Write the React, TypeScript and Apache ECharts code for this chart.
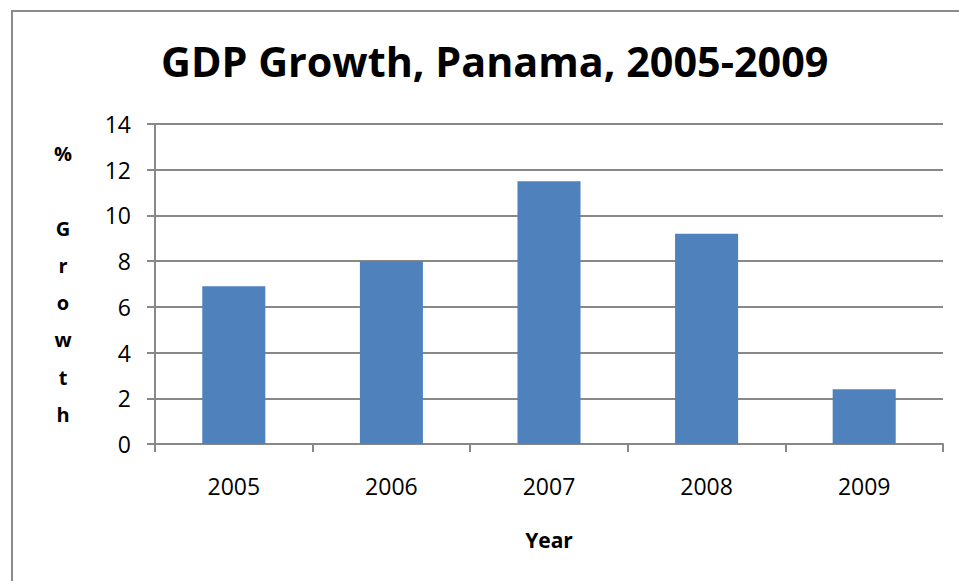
import React, { useEffect, useRef } from "react";
import * as echarts from "echarts";

const years = ["2005", "2006", "2007", "2008", "2009"];
const gdpGrowth = [6.9, 8.0, 11.5, 9.2, 2.4];
const yTicks = { min: 0, max: 14, interval: 2 };
const titleText = "GDP Growth, Panama, 2005-2009";
const xAxisTitle = "Year";
const yAxisTitle = "%\n\nG\nr\no\nw\nt\nh";

export default function App() {
  const ref = useRef<HTMLDivElement>(null);
  useEffect(() => {
    if (!ref.current) return;
    const chart = echarts.init(ref.current, null, { renderer: "svg" });
    const gray = "#888888";
    chart.setOption({
      animation: false,
      backgroundColor: "#ffffff",
      textStyle: { fontFamily: "Open Sans" },
      title: {
        text: titleText,
        left: 156,
        top: 35,
        textStyle: { fontFamily: "Open Sans", fontWeight: "bold", fontSize: 41.3, color: "#000" },
      },
      graphic: [
        {
          type: "rect",
          shape: { x: 12, y: 11, width: 1000, height: 1000 },
          style: { fill: "none", stroke: "#8c8c8c", lineWidth: 2 },
          silent: true,
        },
      ],
      grid: { left: 155, top: 124, right: 16, bottom: 137 },
      xAxis: {
        type: "category",
        data: years,
        name: xAxisTitle,
        nameLocation: "middle",
        nameGap: 85,
        nameTextStyle: { fontFamily: "Open Sans", fontWeight: "bold", fontSize: 21, color: "#000" },
        axisLine: { show: true, lineStyle: { color: gray, width: 2 } },
        axisTick: { show: true, length: 8, lineStyle: { color: gray, width: 2 } },
        axisLabel: { margin: 30, fontFamily: "Open Sans", fontSize: 23, color: "#000" },
      },
      yAxis: {
        type: "value",
        min: yTicks.min,
        max: yTicks.max,
        interval: yTicks.interval,
        name: yAxisTitle,
        nameLocation: "middle",
        nameRotate: 0,
        nameGap: 92,
        nameTextStyle: {
          fontFamily: "Open Sans",
          fontWeight: "bold",
          fontSize: 20,
          color: "#000",
          lineHeight: 37.3,
          align: "center",
          verticalAlign: "middle",
          padding: [6, 0, 0, 0],
        },
        axisLine: { show: true, lineStyle: { color: gray, width: 2 } },
        axisTick: { show: true, length: 8, lineStyle: { color: gray, width: 2 } },
        splitLine: { show: true, lineStyle: { color: gray, width: 2 } },
        axisLabel: { margin: 24, fontFamily: "Open Sans", fontSize: 23, color: "#000" },
      },
      series: [
        {
          type: "bar",
          data: gdpGrowth,
          barCategoryGap: "60%",
          itemStyle: { color: "#4f81bd" },
        },
      ],
    });
    return () => chart.dispose();
  }, []);
  return (
    <div
      ref={ref}
      style={{ position: "fixed", left: 0, top: 0, width: 959, height: 581 }}
    />
  );
}
